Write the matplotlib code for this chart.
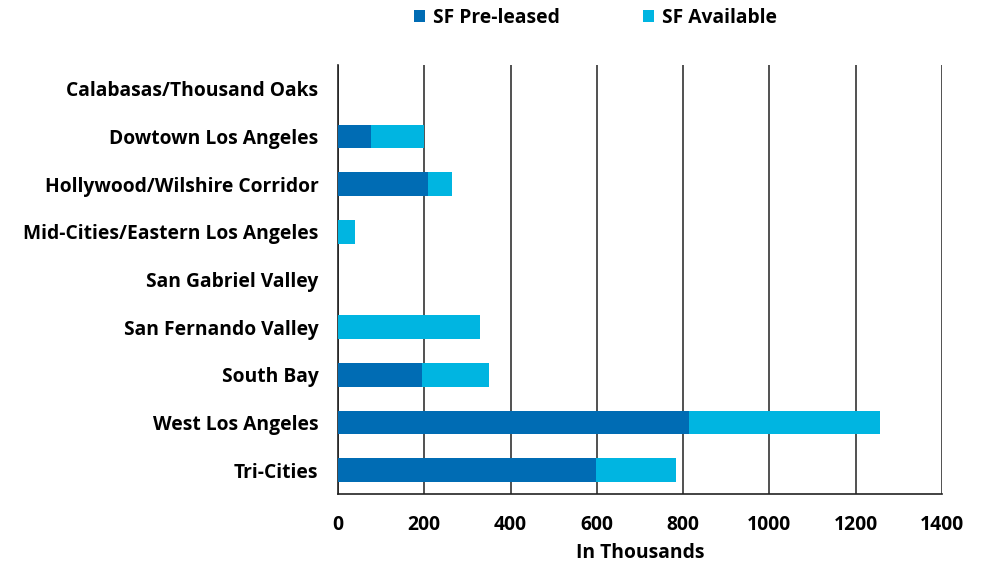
import matplotlib.pyplot as plt
import numpy as np

plt.rcParams['font.family'] = ['Open Sans', 'DejaVu Sans']
plt.rcParams['font.weight'] = 'bold'

regions = ['Calabasas/Thousand Oaks', 'Dowtown Los Angeles', 'Hollywood/Wilshire Corridor',
           'Mid-Cities/Eastern Los Angeles', 'San Gabriel Valley', 'San Fernando Valley',
           'South Bay', 'West Los Angeles', 'Tri-Cities']
pre_leased = np.array([0, 77, 208, 0, 0, 0, 195, 814, 598])
available = np.array([0, 123, 56, 39, 0, 329, 155, 442, 186])

dark_blue = '#006CB4'
light_blue = '#00B5E1'
fs = 13.9

fig = plt.figure(figsize=(9.81, 5.63), dpi=100)
ax = fig.add_axes([0.3445, 0.1226, 0.6157, 0.7619])

y = np.arange(len(regions))
ax.barh(y, pre_leased, height=0.5, color=dark_blue, label='SF Pre-leased', zorder=3)
ax.barh(y, available, left=pre_leased, height=0.5, color=light_blue, label='SF Available', zorder=3)

ax.set_xlim(0, 1400)
ax.set_ylim(len(regions) - 0.5, -0.5)
ax.set_xticks(np.arange(0, 1401, 200))
ax.set_yticks(y)
ax.set_yticklabels(regions)
ax.tick_params(axis='both', length=0, labelsize=fs, colors='black')
ax.tick_params(axis='x', pad=15)
ax.tick_params(axis='y', pad=14)
for lbl in ax.get_xticklabels() + ax.get_yticklabels():
    lbl.set_fontweight('bold')

ax.grid(axis='x', color='#333333', linewidth=1.2, zorder=0)
for side in ['top', 'right']:
    ax.spines[side].set_visible(False)
ax.spines['left'].set_color('#222222')
ax.spines['bottom'].set_color('#222222')
ax.spines['left'].set_linewidth(1.2)
ax.spines['bottom'].set_linewidth(1.2)

ax.set_xlabel('In Thousands', fontsize=fs, fontweight='bold', labelpad=6)

fig.legend(loc='upper center', bbox_to_anchor=(0.607, 1.017), ncol=2, frameon=False,
           handlelength=0.6, handleheight=0.6, columnspacing=4.3,
           handletextpad=0.4, prop={'weight': 'bold', 'size': fs})

fig.savefig('out.png', dpi=100)
